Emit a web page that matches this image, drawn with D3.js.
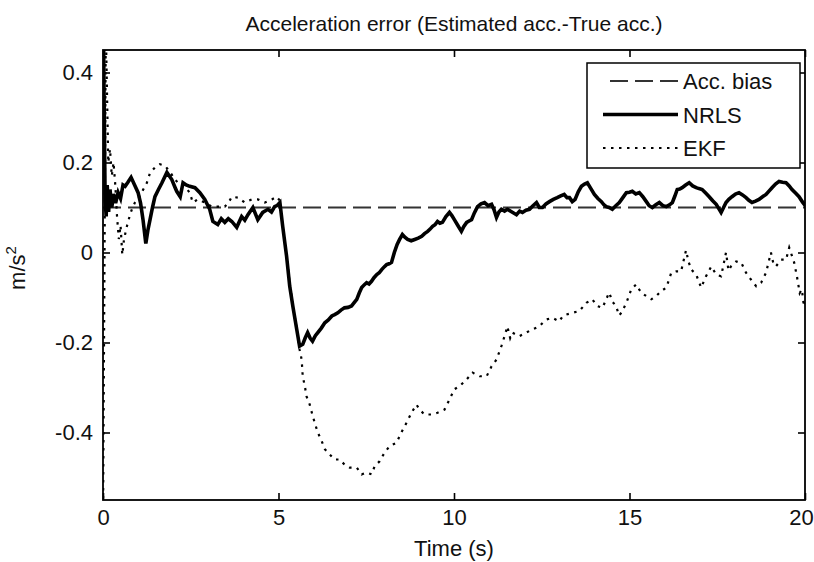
<!DOCTYPE html>
<html>
<head>
<meta charset="utf-8">
<script src="https://cdn.jsdelivr.net/npm/d3@7"></script>
<style>
  html, body { margin: 0; padding: 0; background: #fff; }
  svg text { font-family: "Liberation Sans", Arial, Helvetica, sans-serif; fill: #111; }
</style>
</head>
<body>
<svg id="chart" width="814" height="562"></svg>
<script>
// ---------------- data ----------------
const title = "Acceleration error (Estimated acc.-True acc.)";
const xLabel = "Time (s)";
const xTicks = [0, 5, 10, 15, 20];
const yTicks = [-0.4, -0.2, 0, 0.2, 0.4];
const seriesNames = ["Acc. bias", "NRLS", "EKF"];
const accBias = 0.1;
const biasT = [0, 20.1];

const nrlsT = [0,0.03,0.06,0.09,0.12,0.16,0.2,0.25,0.3,0.36,0.43,0.5,0.57,0.63,0.7,0.8,0.9,1.0,1.07,1.14,1.22,1.28,1.34,1.41,1.48,1.58,1.68,1.82,1.96,2.05,2.1,2.2,2.28,2.37,2.47,2.62,2.76,2.9,3.04,3.13,3.27,3.37,3.47,3.57,3.67,3.81,3.95,4.04,4.13,4.27,4.41,4.55,4.7,4.8,4.89,4.97,5.04,5.12,5.23,5.32,5.41,5.52,5.6,5.69,5.76,5.83,5.9,5.97,6.05,6.12,6.22,6.32,6.42,6.52,6.6,6.69,6.78,6.88,6.98,7.08,7.15,7.23,7.3,7.37,7.44,7.51,7.58,7.65,7.72,7.8,7.87,7.94,8.01,8.08,8.15,8.22,8.3,8.38,8.45,8.53,8.6,8.68,8.78,8.88,8.98,9.08,9.16,9.25,9.32,9.39,9.46,9.53,9.6,9.67,9.77,9.87,9.94,10.01,10.11,10.21,10.28,10.36,10.43,10.5,10.58,10.67,10.77,10.87,10.97,11.07,11.14,11.21,11.28,11.35,11.44,11.52,11.65,11.78,11.87,11.95,12.05,12.15,12.25,12.35,12.43,12.52,12.62,12.72,12.83,12.94,13.04,13.14,13.22,13.29,13.37,13.45,13.54,13.63,13.72,13.8,13.9,14.0,14.1,14.2,14.27,14.34,14.42,14.51,14.61,14.71,14.81,14.91,15.0,15.08,15.18,15.28,15.38,15.48,15.56,15.65,15.75,15.85,15.95,16.05,16.14,16.22,16.29,16.36,16.43,16.5,16.6,16.7,16.8,16.9,16.98,17.07,17.17,17.27,17.37,17.47,17.54,17.61,17.68,17.75,17.83,17.92,18.02,18.12,18.22,18.32,18.4,18.49,18.59,18.69,18.79,18.89,18.98,19.06,19.16,19.26,19.36,19.46,19.55,19.63,19.73,19.83,19.93,20.03];
const nrlsV = [0.6,0.35,0.12,0.08,0.15,0.09,0.14,0.1,0.13,0.11,0.133,0.12,0.15,0.147,0.155,0.167,0.15,0.133,0.11,0.073,0.02,0.05,0.073,0.1,0.124,0.14,0.155,0.178,0.162,0.145,0.136,0.124,0.155,0.15,0.147,0.144,0.133,0.118,0.096,0.069,0.062,0.075,0.067,0.075,0.069,0.056,0.08,0.072,0.084,0.1,0.073,0.089,0.096,0.09,0.102,0.105,0.111,0.058,-0.008,-0.075,-0.12,-0.171,-0.208,-0.204,-0.19,-0.178,-0.19,-0.197,-0.185,-0.178,-0.168,-0.156,-0.15,-0.141,-0.138,-0.134,-0.128,-0.123,-0.122,-0.119,-0.112,-0.104,-0.09,-0.078,-0.072,-0.067,-0.07,-0.064,-0.056,-0.049,-0.045,-0.038,-0.032,-0.027,-0.025,-0.022,0.0,0.018,0.029,0.04,0.034,0.029,0.026,0.029,0.032,0.036,0.042,0.047,0.052,0.058,0.062,0.069,0.065,0.067,0.08,0.089,0.082,0.073,0.06,0.047,0.058,0.067,0.07,0.073,0.088,0.102,0.108,0.111,0.104,0.107,0.095,0.078,0.09,0.096,0.092,0.096,0.09,0.084,0.092,0.089,0.094,0.096,0.104,0.111,0.1,0.1,0.108,0.113,0.118,0.122,0.126,0.129,0.122,0.122,0.113,0.118,0.135,0.147,0.152,0.155,0.142,0.129,0.12,0.113,0.106,0.102,0.1,0.096,0.104,0.111,0.122,0.133,0.134,0.136,0.13,0.133,0.124,0.113,0.104,0.1,0.106,0.111,0.104,0.102,0.106,0.111,0.125,0.14,0.141,0.144,0.15,0.155,0.148,0.144,0.142,0.14,0.132,0.124,0.115,0.107,0.098,0.089,0.1,0.111,0.118,0.124,0.13,0.133,0.128,0.122,0.116,0.111,0.114,0.118,0.124,0.129,0.137,0.144,0.152,0.158,0.156,0.155,0.148,0.14,0.132,0.124,0.112,0.102];

const ekfT = [0,0.08,0.15,0.2,0.25,0.3,0.35,0.4,0.45,0.5,0.55,0.6,0.68,0.77,0.84,0.91,1.0,1.1,1.18,1.25,1.34,1.48,1.62,1.76,1.9,2.05,2.19,2.33,2.47,2.56,2.7,2.9,3.1,3.27,3.47,3.57,3.67,3.84,4.04,4.24,4.41,4.61,4.81,4.95,5.04,5.12,5.23,5.32,5.41,5.52,5.6,5.66,5.69,5.75,5.8,5.89,5.95,6.03,6.12,6.23,6.32,6.46,6.6,6.74,6.88,7.03,7.23,7.37,7.51,7.65,7.74,7.88,8.02,8.17,8.36,8.5,8.65,8.79,8.93,9.02,9.16,9.36,9.53,9.73,9.87,10.01,10.16,10.36,10.53,10.73,10.93,11.07,11.21,11.35,11.44,11.52,11.6,11.66,11.86,12.06,12.23,12.43,12.53,12.63,12.8,13.0,13.1,13.2,13.37,13.57,13.77,13.94,14.08,14.23,14.42,14.52,14.62,14.7,14.77,14.91,15.05,15.19,15.33,15.48,15.62,15.76,15.9,16.05,16.19,16.33,16.47,16.61,16.68,16.76,16.9,17.04,17.18,17.33,17.47,17.61,17.75,17.82,17.89,18.04,18.18,18.32,18.46,18.61,18.75,18.89,19.03,19.1,19.17,19.32,19.46,19.55,19.69,19.77,19.85,19.91,19.97,20.03];
const ekfV = [-0.6,0.5,0.2,0.23,0.17,0.2,0.15,0.08,0.03,0.06,-0.005,0.03,0.058,0.084,0.1,0.111,0.12,0.133,0.145,0.155,0.177,0.189,0.196,0.193,0.18,0.162,0.151,0.147,0.133,0.111,0.118,0.111,0.102,0.102,0.102,0.11,0.124,0.122,0.111,0.118,0.118,0.111,0.118,0.124,0.115,0.06,-0.005,-0.07,-0.118,-0.17,-0.215,-0.238,-0.275,-0.297,-0.32,-0.338,-0.356,-0.378,-0.4,-0.419,-0.437,-0.449,-0.46,-0.46,-0.471,-0.478,-0.478,-0.493,-0.489,-0.493,-0.475,-0.464,-0.445,-0.43,-0.423,-0.4,-0.378,-0.356,-0.338,-0.349,-0.36,-0.36,-0.356,-0.349,-0.327,-0.304,-0.297,-0.282,-0.267,-0.275,-0.275,-0.253,-0.238,-0.208,-0.186,-0.164,-0.19,-0.178,-0.186,-0.178,-0.171,-0.164,-0.156,-0.149,-0.145,-0.153,-0.141,-0.138,-0.134,-0.13,-0.112,-0.104,-0.119,-0.123,-0.089,-0.11,-0.119,-0.14,-0.134,-0.112,-0.082,-0.071,-0.089,-0.097,-0.104,-0.097,-0.086,-0.078,-0.045,-0.042,-0.042,0.005,-0.02,-0.038,-0.049,-0.078,-0.053,-0.031,-0.049,-0.053,0.0,-0.04,-0.031,-0.02,-0.022,-0.045,-0.06,-0.075,-0.067,-0.045,0.0,-0.025,-0.031,-0.016,-0.016,0.011,-0.022,-0.053,-0.09,-0.082,-0.12,-0.104];

// ---------------- layout ----------------
const svg = d3.select("#chart");
const L = 103, R = 805, T = 50, B = 500;
const x = d3.scaleLinear().domain([0, 20]).range([L, R]);
const y = d3.scaleLinear().domain([-0.55, 0.45]).range([B, T]);

svg.append("defs").append("clipPath").attr("id", "plotclip")
  .append("rect").attr("x", L).attr("y", T).attr("width", R - L).attr("height", B - T);

const plot = svg.append("g").attr("clip-path", "url(#plotclip)");

const line = d3.line().x(d => x(d[0])).y(d => y(d[1]));

const biasData = biasT.map(t => [t, accBias]);
const nrlsData = nrlsT.map((t, i) => [t, nrlsV[i]]);
const ekfData = ekfT.map((t, i) => [t, ekfV[i]]);

plot.append("path").datum(biasData).attr("d", line)
  .attr("fill", "none").attr("stroke", "#333").attr("stroke-width", 1.8)
  .attr("stroke-dasharray", "18,7");

plot.append("path").datum(ekfData).attr("d", line)
  .attr("fill", "none").attr("stroke", "#000").attr("stroke-width", 2.2)
  .attr("stroke-dasharray", "2.5,5.5");

plot.append("path").datum(nrlsData).attr("d", line)
  .attr("fill", "none").attr("stroke", "#000").attr("stroke-width", 3.6)
  .attr("stroke-linejoin", "miter");

// ---------------- axes ----------------
const tl = 7;
const fontSize = "22px";
const fmtY = d => (d === 0 ? "0" : d.toFixed(1));

const gB = svg.append("g").attr("transform", `translate(0,${B})`)
  .call(d3.axisBottom(x).tickValues(xTicks).tickSize(-tl).tickPadding(9).tickFormat(d3.format("d")));
const gT = svg.append("g").attr("transform", `translate(0,${T})`)
  .call(d3.axisTop(x).tickValues(xTicks).tickSize(-tl).tickFormat(""));
const gL = svg.append("g").attr("transform", `translate(${L},0)`)
  .call(d3.axisLeft(y).tickValues(yTicks).tickSize(-tl).tickPadding(10).tickFormat(fmtY));
const gR = svg.append("g").attr("transform", `translate(${R},0)`)
  .call(d3.axisRight(y).tickValues(yTicks).tickSize(-tl).tickFormat(""));

[gB, gT, gL, gR].forEach(g => {
  g.select(".domain").remove();
  g.selectAll(".tick line").attr("stroke", "#000").attr("stroke-width", 1.6);
  g.selectAll(".tick text").style("font-size", fontSize).attr("fill", "#111")
    .style("font-family", '"Liberation Sans", Arial, sans-serif');
});
// keep the last x label inside the window
gB.selectAll(".tick text").filter(d => d === 20).attr("dx", -4);

svg.append("rect").attr("x", L).attr("y", T).attr("width", R - L).attr("height", B - T)
  .attr("fill", "none").attr("stroke", "#000").attr("stroke-width", 1.8);

// ---------------- labels ----------------
svg.append("text").attr("x", (L + R) / 2).attr("y", 31).attr("text-anchor", "middle")
  .style("font-size", "21px").text(title);

svg.append("text").attr("x", (L + R) / 2).attr("y", 556).attr("text-anchor", "middle")
  .style("font-size", "22px").text(xLabel);

const yl = svg.append("text").attr("transform", `translate(25,268) rotate(-90)`)
  .attr("text-anchor", "middle").style("font-size", "22px");
yl.append("tspan").text("m/s");
yl.append("tspan").attr("dy", -9).style("font-size", "15px").text("2");

// ---------------- legend ----------------
const lg = svg.append("g");
lg.append("rect").attr("x", 587).attr("y", 63).attr("width", 213).attr("height", 105)
  .attr("fill", "#fff").attr("stroke", "#000").attr("stroke-width", 1.5);
const styles = [
  { stroke: "#333", w: 1.8, dash: "18,7", x0: 610 },
  { stroke: "#000", w: 3.6, dash: null, x0: 603 },
  { stroke: "#000", w: 2.2, dash: "2.5,5.5", x0: 603 }
];
seriesNames.forEach((name, i) => {
  const cy = 81 + i * 33.5;
  const s = styles[i];
  const ln = lg.append("line").attr("x1", s.x0).attr("x2", 678).attr("y1", cy).attr("y2", cy)
    .attr("stroke", s.stroke).attr("stroke-width", s.w);
  if (s.dash) ln.attr("stroke-dasharray", s.dash);
  lg.append("text").attr("x", 683).attr("y", cy + 8).style("font-size", "22px").text(name);
});
</script>
</body>
</html>
